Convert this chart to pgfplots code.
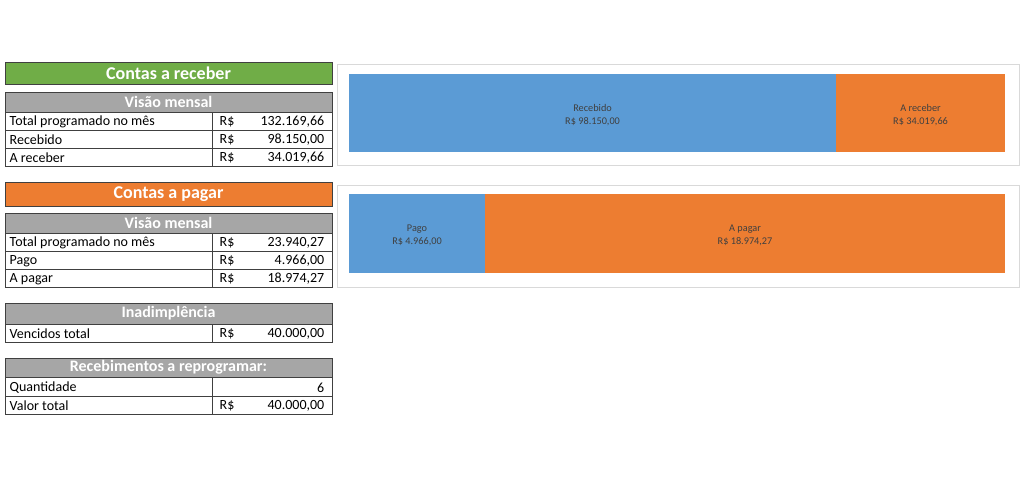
\documentclass[border=0pt]{standalone}
\usepackage{pgfplots}
\pgfplotsset{compat=1.18}
\usepackage{fontspec}
\setmainfont{Carlito}
\definecolor{xgreen}{HTML}{70AD47}
\definecolor{xorange}{HTML}{ED7D31}
\definecolor{xblue}{HTML}{5B9BD5}
\definecolor{xgray}{HTML}{A6A6A6}
\definecolor{xline}{HTML}{404040}
\definecolor{xlab}{HTML}{404040}
\definecolor{xframe}{HTML}{D9D9D9}
\newcommand{\bodyfont}{\fontsize{10.5}{12}\selectfont}
\newcommand{\titlefont}{\bfseries\fontsize{13.5}{15}\selectfont}
\newcommand{\subfont}{\bfseries\fontsize{12}{14}\selectfont}
\newcommand{\labfont}{\fontsize{7.7}{9.75}\selectfont}
\begin{document}
\begin{tikzpicture}[x=0.75pt,y=-0.75pt]
\fill[white] (0,0) rectangle (1024,482);
% ---------- Contas a receber ----------
\fill[xgreen] (5,62) rectangle (332,84);
\draw[xline,line width=0.75pt] (5,62) rectangle (332,84);
\node[white,font=\titlefont] at (168.5,73) {Contas a receber};
\fill[xgray] (5,92) rectangle (332,112);
\node[white,font=\subfont] at (168.5,102) {Visão mensal};
\draw[xline,line width=0.75pt] (5,92) rectangle (332,166);
\draw[xline,line width=0.6pt] (5,112)--(332,112) (5,130)--(332,130) (5,148)--(332,148) (212,112)--(212,166);
\begin{scope}[font=\bodyfont]
\node[anchor=west] at (5,122) {Total programado no mês};
\node[anchor=west] at (215,122) {R\$};
\node[anchor=east] at (329,122) {132.169,66};
\node[anchor=west] at (5,140) {Recebido};
\node[anchor=west] at (215,140) {R\$};
\node[anchor=east] at (329,140) {98.150,00};
\node[anchor=west] at (5,158) {A receber};
\node[anchor=west] at (215,158) {R\$};
\node[anchor=east] at (329,158) {34.019,66};
\end{scope}
% ---------- Contas a pagar ----------
\fill[xorange] (5,182) rectangle (332,206);
\draw[xline,line width=0.75pt] (5,182) rectangle (332,206);
\node[white,font=\titlefont] at (168.5,194) {Contas a pagar};
\fill[xgray] (5,213) rectangle (332,233);
\node[white,font=\subfont] at (168.5,223) {Visão mensal};
\draw[xline,line width=0.75pt] (5,213) rectangle (332,287);
\draw[xline,line width=0.6pt] (5,233)--(332,233) (5,251)--(332,251) (5,269)--(332,269) (212,233)--(212,287);
\begin{scope}[font=\bodyfont]
\node[anchor=west] at (5,243) {Total programado no mês};
\node[anchor=west] at (215,243) {R\$};
\node[anchor=east] at (329,243) {23.940,27};
\node[anchor=west] at (5,261) {Pago};
\node[anchor=west] at (215,261) {R\$};
\node[anchor=east] at (329,261) {4.966,00};
\node[anchor=west] at (5,279) {A pagar};
\node[anchor=west] at (215,279) {R\$};
\node[anchor=east] at (329,279) {18.974,27};
\end{scope}
% ---------- Inadimplencia ----------
\fill[xgray] (5,303) rectangle (332,324);
\node[white,font=\subfont] at (168.5,313.5) {Inadimplência};
\draw[xline,line width=0.75pt] (5,303) rectangle (332,342);
\draw[xline,line width=0.6pt] (5,324)--(332,324) (212,324)--(212,342);
\begin{scope}[font=\bodyfont]
\node[anchor=west] at (5,334) {Vencidos total};
\node[anchor=west] at (215,334) {R\$};
\node[anchor=east] at (329,334) {40.000,00};
\end{scope}
% ---------- Recebimentos a reprogramar ----------
\fill[xgray] (5,358) rectangle (332,377);
\node[white,font=\subfont] at (168.5,367.5) {Recebimentos a reprogramar:};
\draw[xline,line width=0.75pt] (5,358) rectangle (332,414);
\draw[xline,line width=0.6pt] (5,377)--(332,377) (5,396)--(332,396) (212,377)--(212,414);
\begin{scope}[font=\bodyfont]
\node[anchor=west] at (5,387.5) {Quantidade};
\node[anchor=east] at (329,387.5) {6};
\node[anchor=west] at (5,406) {Valor total};
\node[anchor=west] at (215,406) {R\$};
\node[anchor=east] at (329,406) {40.000,00};
\end{scope}
% ---------- chart frames ----------
\draw[xframe,line width=0.75pt] (337,64) rectangle (1019,165);
\draw[xframe,line width=0.75pt] (337,185) rectangle (1019,287);
% ---------- chart 1 ----------
\begin{axis}[at={(261.75pt,-55.5pt)}, anchor=north west,
  scale only axis, width=492pt, height=58.5pt,
  xbar stacked, bar width=58.5pt,
  xmin=0, xmax=132169.66, ymin=0.5, ymax=1.5,
  enlargelimits=false, hide axis, clip=false]
\addplot[fill=xblue, draw=none] coordinates {(98150,1)};
\addplot[fill=xorange, draw=none] coordinates {(34019.66,1)};
\coordinate (a1) at (axis cs:49075,1);
\coordinate (a2) at (axis cs:115159.83,1);
\end{axis}
\node[text=xlab, font=\labfont, align=center, yshift=-1.5pt] at (a1) {Recebido\\R\$ 98.150,00};
\node[text=xlab, font=\labfont, align=center, yshift=-1.5pt] at (a2) {A receber\\R\$ 34.019,66};
% ---------- chart 2 ----------
\begin{axis}[at={(261.75pt,-145.5pt)}, anchor=north west,
  scale only axis, width=492pt, height=59.25pt,
  xbar stacked, bar width=59.25pt,
  xmin=0, xmax=23940.27, ymin=0.5, ymax=1.5,
  enlargelimits=false, hide axis, clip=false]
\addplot[fill=xblue, draw=none] coordinates {(4966,1)};
\addplot[fill=xorange, draw=none] coordinates {(18974.27,1)};
\coordinate (b1) at (axis cs:2483,1);
\coordinate (b2) at (axis cs:14453.135,1);
\end{axis}
\node[text=xlab, font=\labfont, align=center, yshift=-1.5pt] at (b1) {Pago\\R\$ 4.966,00};
\node[text=xlab, font=\labfont, align=center, yshift=-1.5pt] at (b2) {A pagar\\R\$ 18.974,27};
\end{tikzpicture}
\end{document}
